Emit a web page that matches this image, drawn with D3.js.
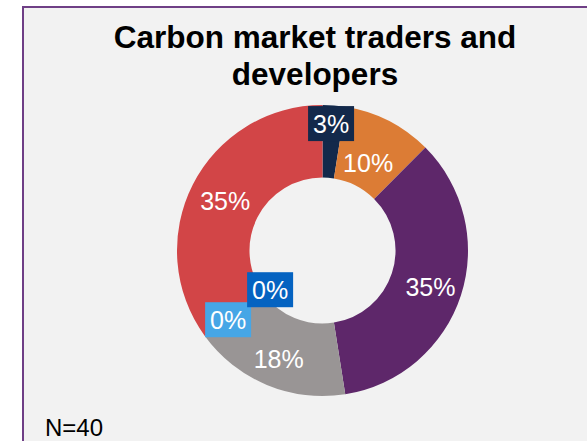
<!DOCTYPE html>
<html>
<head>
<meta charset="utf-8">
<script src="https://cdn.jsdelivr.net/npm/d3@7"></script>
<style>
  body { margin: 0; background: #fff; }
  svg { display: block; font-family: "Liberation Sans", Arial, sans-serif; }
</style>
</head>
<body>
<div id="chart"></div>
<script>
// Chart data (counts out of N=40, shown as rounded percentages)
var categories = ["Cat A", "Cat B", "Cat C", "Cat D", "Cat E", "Cat F", "Cat G"];
var counts = [1, 4, 14, 7, 0, 0, 14];
var total = 40;
var colors = ["#13294b", "#dc7c35", "#5e276a", "#999595", "#46a6e6", "#0563c1", "#d24547"];
var boxedLabels = [true, false, false, false, true, true, false];

// layout
var W = 587, H = 441;
var cx = 322.5, cy = 250.5;
var outerR = 145.5, innerR = 73;
// manual label nudges (like dragged data labels)
var nudge = {0: [0, -18], 4: [-6, 5], 5: [36, -25], 1: [-4, 10], 3: [-2, 8], 2: [4, 3]};

var svg = d3.select("#chart").append("svg")
    .attr("width", W)
    .attr("height", H);

//Panel background and border
svg.append("rect")
    .attr("x", 23).attr("y", 7)
    .attr("width", W).attr("height", H)
    .attr("fill", "#f2f2f2")
    .attr("stroke", "#6f3f86")
    .attr("stroke-width", 2);

//Title
var title = svg.append("text")
    .attr("text-anchor", "middle")
    .style("font-weight", "bold")
    .style("font-size", "31.5px")
    .attr("fill", "#000");
title.append("tspan").attr("x", 315).attr("y", 48).text("Carbon market traders and");
title.append("tspan").attr("x", 315).attr("y", 85).text("developers");

var pie = d3.pie().sort(null).value(function(d) { return d; });
var arcs = pie(counts);

var arc = d3.arc().innerRadius(innerR).outerRadius(outerR);
var labelArc = d3.arc().innerRadius(innerR).outerRadius(outerR);

var g = svg.append("g").attr("transform", "translate(" + cx + "," + cy + ")");

g.selectAll("path.slice")
    .data(arcs)
  .enter().append("path")
    .attr("class", "slice")
    .attr("d", arc)
    .attr("fill", function(d, i) { return colors[i]; });

//Data labels
var fs = 25;
var labels = g.selectAll("g.label")
    .data(arcs)
  .enter().append("g")
    .attr("class", "label")
    .attr("transform", function(d, i) {
      var c = labelArc.centroid(d);
      var n = nudge[i] || [0, 0];
      return "translate(" + (c[0] + n[0]) + "," + (c[1] + n[1]) + ")";
    });

labels.each(function(d, i) {
  var sel = d3.select(this);
  var txt = Math.round(d.data / total * 100) + "%";
  if (boxedLabels[i]) {
    sel.append("rect")
      .attr("x", -23).attr("y", -17.5)
      .attr("width", 46).attr("height", 35)
      .attr("fill", colors[i]);
  }
  sel.append("text")
    .attr("text-anchor", "middle")
    .attr("dy", "0.36em")
    .style("font-size", fs + "px")
    .attr("fill", "#fff")
    .text(txt);
});

//Sample size note
svg.append("text")
    .attr("x", 45).attr("y", 436)
    .style("font-size", "24px")
    .attr("fill", "#000")
    .text("N=" + total);
</script>
</body>
</html>
